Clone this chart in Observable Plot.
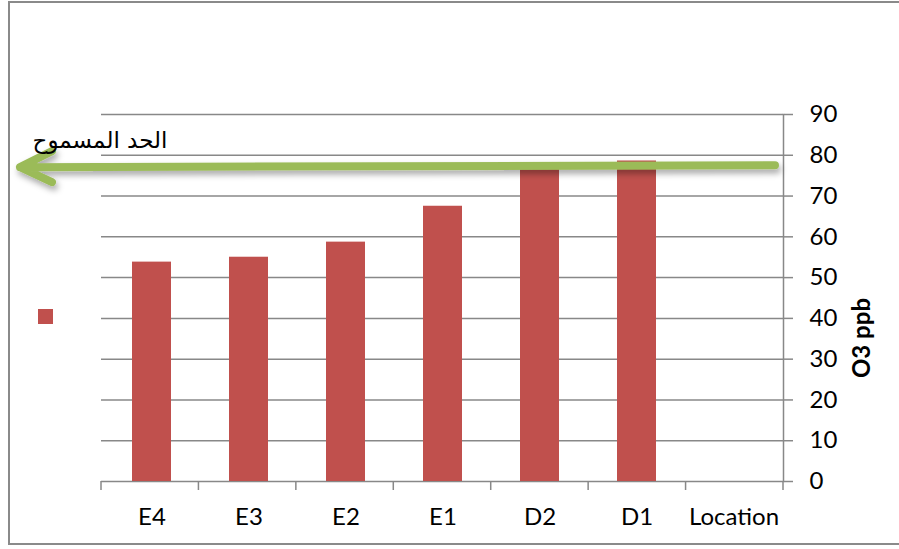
<!DOCTYPE html>
<html>
<head>
<meta charset="utf-8">
<script src="https://cdn.jsdelivr.net/npm/d3@7"></script>
<script src="https://cdn.jsdelivr.net/npm/@observablehq/plot@0.6"></script>
<style>
  html, body { margin: 0; padding: 0; background: #fff; }
  #wrap { position: relative; width: 899px; height: 549px; overflow: hidden; }
  #border { position: absolute; left: 8px; top: 1px; width: 940px; height: 544px; border: 2px solid #8a8a8a; box-sizing: border-box; }
  #legend { position: absolute; left: 38px; top: 309px; width: 15px; height: 15px; background: #C0504D; }
  #chart { position: absolute; left: 0; top: 0; }
</style>
</head>
<body>
<div id="wrap">
  <div id="border"></div>
  <div id="legend"></div>
  <div id="chart"></div>
</div>
<script>
const categories = ["E4", "E3", "E2", "E1", "D2", "D1", "Location"];
const values = [53.8, 55.0, 58.7, 67.5, 77.0, 78.6, null];
const yTicks = [0, 10, 20, 30, 40, 50, 60, 70, 80, 90];
const limitValue = 77.2;
const limitLabel = "الحد المسموح";
const yLabel = "O3 ppb";

const data = categories.map((c, i) => ({cat: c, value: values[i]})).filter(d => d.value != null);

const gray = "#888888";
const barColor = "#C0504D";
const arrowColor = "#9BBB59";

function decorations(index, scales, vals, dims) {
  const {width, height, marginLeft, marginRight, marginBottom} = dims;
  const g = d3.create("svg:g");
  const step = (width - marginLeft - marginRight) / categories.length;
  const y0 = height - marginBottom;
  // x axis tick marks at band boundaries
  for (let i = 0; i <= categories.length; i++) {
    const bx = marginLeft + i * step;
    g.append("line").attr("x1", bx).attr("x2", bx).attr("y1", y0).attr("y2", y0 + 9)
      .attr("stroke", gray).attr("stroke-width", 1.5);
  }
  // limit arrow
  const defs = g.append("defs");
  const f = defs.append("filter").attr("id", "shadow").attr("x", "-10%").attr("y", "-100%").attr("width", "120%").attr("height", "400%");
  f.append("feDropShadow").attr("dx", 2).attr("dy", 4).attr("stdDeviation", 3).attr("flood-color", "#000").attr("flood-opacity", 0.35);
  const yy = scales.y(limitValue);
  const xr = width - marginRight - 8;
  const xl = 20;
  g.append("path")
    .attr("d", `M${xr},${yy - 1}L${xl},${yy + 1}M${xl + 32},${yy - 15}L${xl},${yy + 1}L${xl + 32},${yy + 16}`)
    .attr("fill", "none").attr("stroke", arrowColor).attr("stroke-width", 8)
    .attr("stroke-linecap", "round").attr("stroke-linejoin", "round")
    .attr("filter", "url(#shadow)");
  g.append("text").attr("x", 100).attr("y", yy - 18)
    .attr("text-anchor", "middle")
    .attr("font-family", "'DejaVu Sans', sans-serif").attr("font-size", 23)
    .attr("fill", "#000").text(limitLabel);
  return g.node();
}

const chart = Plot.plot({
  width: 899,
  height: 549,
  marginLeft: 101,
  marginRight: 116,
  marginTop: 114,
  marginBottom: 68,
  style: {fontFamily: "Lato, sans-serif", fontSize: "24px", color: "#000", background: "transparent", overflow: "visible"},
  x: {domain: categories, paddingInner: 0.6, paddingOuter: 0.3, align: 0.5},
  y: {domain: [0, 90]},
  marks: [
    Plot.gridY(yTicks, {stroke: gray, strokeOpacity: 1, strokeWidth: 1.5}),
    Plot.barY(data, {x: "cat", y: "value", fill: barColor}),
    Plot.frame({anchor: "right", stroke: gray, strokeWidth: 1.5}),
    Plot.axisY(yTicks, {anchor: "right", tickSize: 9, tickPadding: 17, stroke: gray, strokeWidth: 1.5, label: null, fontSize: 24}),
    Plot.axisX({anchor: "bottom", tickSize: 0, tickPadding: 26, label: null, fontSize: 24}),
    Plot.text([yLabel], {frameAnchor: "right", dx: 79, rotate: -90, fontWeight: "bold", fontSize: 24, text: d => d}),
    decorations
  ]
});
document.getElementById("chart").appendChild(chart);
</script>
</body>
</html>
